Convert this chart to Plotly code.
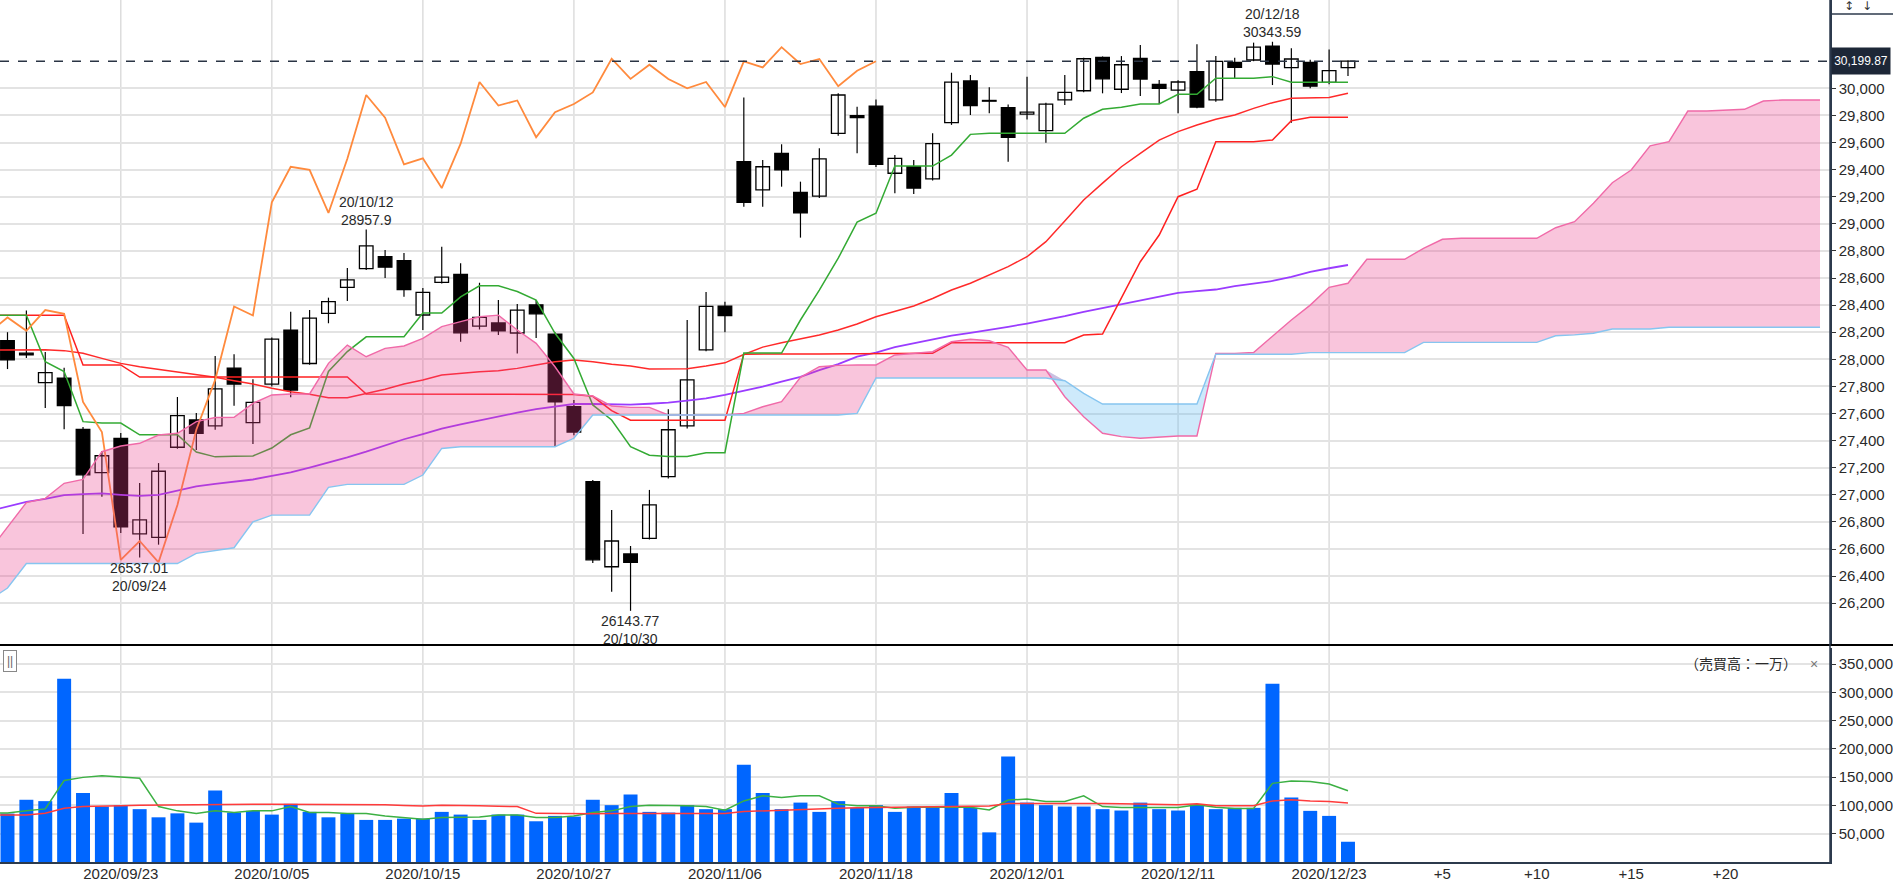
import plotly.graph_objects as go

# ---------------- data ----------------
dates = ["2020/09/15","2020/09/16","2020/09/17","2020/09/18","2020/09/21","2020/09/22","2020/09/23","2020/09/24","2020/09/25","2020/09/28",
         "2020/09/29","2020/09/30","2020/10/01","2020/10/02","2020/10/05","2020/10/06","2020/10/07","2020/10/08","2020/10/09","2020/10/12",
         "2020/10/13","2020/10/14","2020/10/15","2020/10/16","2020/10/19","2020/10/20","2020/10/21","2020/10/22","2020/10/23","2020/10/26",
         "2020/10/27","2020/10/28","2020/10/29","2020/10/30","2020/11/02","2020/11/03","2020/11/04","2020/11/05","2020/11/06","2020/11/09",
         "2020/11/10","2020/11/11","2020/11/12","2020/11/13","2020/11/16","2020/11/17","2020/11/18","2020/11/19","2020/11/20","2020/11/23",
         "2020/11/24","2020/11/25","2020/11/27","2020/11/30","2020/12/01","2020/12/02","2020/12/03","2020/12/04","2020/12/07","2020/12/08",
         "2020/12/09","2020/12/10","2020/12/11","2020/12/14","2020/12/15","2020/12/16","2020/12/17","2020/12/18","2020/12/21","2020/12/22",
         "2020/12/23","2020/12/24"]

opens = [28137, 28045, 27828, 27860, 27483, 27163, 27417, 26712, 26686, 27351,
         27552, 27508, 27935, 27532, 27817, 28216, 27969, 28339, 28531, 28669,
         28757, 28728, 28327, 28568, 28627, 28245, 28268, 28194, 28402, 28185,
         27650, 27097, 26469, 26563, 26679, 27134, 27508, 28070, 28393, 29458,
         29250, 29520, 29232, 29205, 29668, 29798, 29869, 29373, 29421, 29331,
         29746, 30054, 29905, 29857, 29810, 29687, 29914, 29982, 30229, 29993,
         30221, 30029, 29987, 30122, 29914, 30192, 30209, 30312, 30152, 30192,
         30044, 30152]
highs = [28200, 28360, 28054, 27938, 27500, 27323, 27456, 27088, 27234, 27722,
         27603, 28024, 28037, 27852, 28160, 28351, 28364, 28455, 28674, 28957.9,
         28807, 28784, 28526, 28831, 28708, 28565, 28437, 28408, 28437, 28200,
         27700, 27110, 26887, 26622, 27036, 27631, 28290, 28497, 28424, 29933,
         29470, 29587, 29311, 29557, 29963, 29864, 29918, 29508, 29470, 29668,
         30115, 30098, 30007, 29880, 30086, 29894, 30098, 30225, 30235, 30238,
         30320, 30061, 30060, 30325, 30238, 30226, 30337, 30343.59, 30295, 30210,
         30286, 30205]
lows = [27928, 28010, 27640, 27483, 26711, 26986, 26718, 26537.01, 26632, 27340,
        27330, 27480, 27657, 27375, 27800, 27720, 27960, 28266, 28430, 28659,
        28600, 28462, 28216, 28560, 28130, 28220, 28180, 28042, 28157, 27356,
        27440, 26496, 26285, 26143.77, 26670, 27120, 27490, 28060, 28200, 29126,
        29126, 29274, 28898, 29190, 29650, 29520, 29420, 29225, 29220, 29320,
        29730, 29803, 29815, 29458, 29770, 29599, 29877, 29970, 29963, 29965,
        29943, 29884, 29815, 29852, 29901, 30074, 30200, 30024, 29746, 30000,
        30030, 30091]
closes = [27995.60, 28032.38, 27901.98, 27657.42, 27147.70, 27288.18, 26763.13, 26815.44, 27173.96, 27584.06,
          27452.66, 27781.70, 27816.90, 27682.81, 28148.64, 27772.76, 28303.46, 28425.51, 28586.90, 28837.52,
          28679.81, 28514.00, 28494.20, 28606.31, 28195.42, 28308.79, 28210.82, 28363.66, 28335.57, 27685.38,
          27463.19, 26519.95, 26659.11, 26501.60, 26925.05, 27480.03, 27847.66, 28390.18, 28323.40, 29157.97,
          29420.92, 29397.63, 29080.17, 29479.81, 29950.44, 29783.35, 29438.42, 29483.23, 29263.48, 29591.27,
          30046.24, 29872.47, 29910.37, 29638.64, 29823.92, 29883.79, 29969.52, 30218.26, 30069.79, 30173.88,
          30068.81, 29999.26, 30046.37, 29861.55, 30199.31, 30154.54, 30303.37, 30179.05, 30216.45, 30015.51,
          30129.83, 30199.87]

# indicator series start one session before the first visible candle (index -1)
tenkan = [28326,
          28326, 28326, 27983, 27910, 27540, 27530, 27530, 27443, 27443, 27443,
          27316, 27280, 27285, 27287, 27345, 27443, 27494, 27910, 28057, 28166,
          28166, 28166, 28342, 28342, 28461, 28543, 28543, 28500, 28437, 28192,
          28006, 27663, 27552, 27356, 27292, 27282, 27282, 27311, 27311, 28046,
          28046, 28046, 28290, 28511, 28746, 29012, 29078, 29426, 29426, 29426,
          29507, 29660, 29668, 29668, 29668, 29668, 29668, 29779, 29845, 29860,
          29884, 29884, 29956, 29956, 30074, 30074, 30074, 30086, 30044, 30044,
          30044, 30044]
kijun = [28326,
         28326, 28326, 28326, 28326, 27958, 27958, 27958, 27869, 27869, 27869,
         27869, 27869, 27869, 27869, 27869, 27869, 27869, 27869, 27869, 27744,
         27744, 27744, 27744, 27744, 27744, 27744, 27744, 27744, 27744, 27744,
         27740, 27727, 27621, 27551, 27551, 27551, 27551, 27551, 27551, 28038,
         28040, 28040, 28040, 28040, 28040, 28040, 28040, 28040, 28040, 28044,
         28122, 28122, 28122, 28122, 28122, 28122, 28122, 28179, 28186, 28453,
         28720, 28917, 29200, 29255, 29606, 29606, 29606, 29618, 29761, 29786,
         29786, 29786]
sma25 = [28069,
         28070, 28071, 28071, 28064, 28044, 28007, 27970, 27945, 27926, 27908,
         27889, 27867, 27842, 27818, 27786, 27761, 27742, 27717, 27717, 27749,
         27779, 27818, 27847, 27884, 27897, 27908, 27916, 27933, 27958, 27982,
         27995, 27982, 27963, 27950, 27928, 27928, 27930, 27950, 27974, 28035,
         28090, 28122, 28150, 28180, 28216, 28260, 28314, 28351, 28393, 28449,
         28511, 28561, 28622, 28684, 28757, 28868, 29020, 29176, 29300, 29421,
         29520, 29618, 29680, 29729, 29771, 29803, 29852, 29894, 29926, 29931,
         29933, 29963]
sma75 = [26880,
         26912, 26947, 26970, 26998, 27005, 27011, 27000, 26992, 27000, 27030,
         27062, 27080, 27097, 27113, 27140, 27165, 27200, 27236, 27276, 27318,
         27365, 27410, 27448, 27489, 27520, 27550, 27578, 27606, 27632, 27653,
         27670, 27670, 27667, 27665, 27672, 27680, 27695, 27712, 27737, 27768,
         27798, 27835, 27870, 27920, 27965, 28020, 28050, 28090, 28120, 28150,
         28175, 28195, 28215, 28240, 28264, 28290, 28318, 28350, 28378, 28405,
         28430, 28460, 28491, 28503, 28515, 28540, 28560, 28578, 28609, 28646,
         28672, 28696]
span_a = [26580,
          26762, 26943, 26974, 27085, 27113, 27318, 27360, 27380, 27441, 27454,
          27540, 27570, 27572, 27675, 27737, 27744, 27744, 27970, 28105, 28019,
          28081, 28098, 28155, 28241, 28278, 28314, 28326, 28216, 28118, 27945,
          27744, 27729, 27655, 27645, 27645, 27589, 27589, 27589, 27589, 27601,
          27650, 27687, 27867, 27945, 27955, 27958, 27958, 28032, 28044, 28056,
          28130, 28148, 28137, 28088, 27921, 27921, 27724, 27576, 27454, 27429,
          27417, 27424, 27434, 27434, 28044, 28044, 28050, 28170, 28290, 28400,
          28531, 28561, 28738, 28738, 28738, 28819, 28886, 28893, 28893, 28893,
          28893, 28893, 28971, 29016, 29151, 29303, 29397, 29576, 29606, 29832,
          29832, 29838, 29845, 29906, 29914, 29914, 29914]
span_b = [26220,
          26312, 26493, 26493, 26493, 26493, 26493, 26493, 26493, 26493, 26493,
          26568, 26590, 26609, 26801, 26850, 26850, 26850, 27055, 27077, 27077,
          27077, 27077, 27146, 27342, 27355, 27355, 27355, 27355, 27355, 27355,
          27417, 27589, 27589, 27589, 27589, 27589, 27589, 27589, 27589, 27589,
          27589, 27589, 27589, 27589, 27589, 27601, 27862, 27862, 27862, 27862,
          27862, 27862, 27862, 27862, 27862, 27862, 27842, 27749, 27670, 27670,
          27670, 27670, 27670, 27670, 28037, 28037, 28037, 28037, 28037, 28049,
          28049, 28049, 28049, 28049, 28049, 28125, 28125, 28125, 28125, 28125,
          28125, 28125, 28174, 28180, 28192, 28224, 28224, 28224, 28236, 28236,
          28236, 28236, 28236, 28236, 28236, 28236, 28236]

volume = [85600, 110000, 107600, 324000, 121800, 98000, 100500, 93400, 79000, 86000,
          69600, 126500, 87400, 90400, 83800, 102800, 88600, 79000, 85000, 74400,
          74400, 76700, 76700, 88600, 83800, 74400, 83800, 83800, 72000, 81500,
          80300, 110000, 100500, 119400, 88600, 87400, 100500, 93400, 93400, 172000,
          121800, 93400, 105000, 88600, 107600, 95700, 100500, 88600, 98000, 98000,
          121800, 95700, 52400, 186400, 105000, 100500, 98000, 98000, 93400, 91000,
          105000, 93400, 91000, 101600, 93400, 95700, 95700, 315000, 114000, 90400,
          81500, 35800]
vol_ma5 = [86000,
           86800, 90400, 93900, 144000, 149600, 152600, 150800, 147900, 98000, 90400,
           85600, 90400, 87400, 90400, 90400, 98000, 87400, 87400, 85600, 85600,
           81500, 78500, 75600, 78500, 78500, 79700, 83200, 83200, 78500, 78500,
           81500, 87400, 90400, 98000, 100500, 100500, 99300, 98000, 91600, 108000,
           117000, 114000, 117000, 117000, 102300, 99300, 99300, 95100, 96800, 96800,
           96800, 96800, 92100, 109400, 111200, 106900, 106900, 117000, 98000, 96200,
           96200, 96200, 96200, 101000, 96800, 94500, 94500, 139000, 143000, 142500,
           137900, 126000]
vol_ma25 = [83200,
            83200, 83200, 86200, 95100, 98000, 98000, 99300, 100500, 101000, 101500,
            102000, 102300, 102300, 102300, 102300, 102300, 102300, 102000, 101500, 101000,
            101000, 100000, 99000, 100500, 100500, 99500, 98500, 98000, 86000, 85600,
            84800, 85300, 85600, 85600, 85600, 85600, 85600, 85600, 85600, 89200,
            90500, 92000, 93400, 94000, 95000, 95700, 96200, 96200, 96500, 97000,
            98000, 98600, 99000, 103400, 103600, 103800, 104000, 104000, 103500, 103000,
            102000, 101000, 101000, 103000, 99300, 99300, 99300, 108000, 110000, 108000,
            107000, 104500]

price_ticks = list(range(26200, 30001, 200))
volume_ticks = list(range(50000, 350001, 50000))
future_ticks = [5, 10, 15, 20]
chikou_shift = 25
last_price = 30199.87

# ---------------- figure ----------------
n = len(dates)
idx = list(range(n))
ind_x = list(range(-1, n))                 # indicator x positions (from index -1)
cloud_x = list(range(-1, len(span_a) - 1))
FONT = "Liberation Sans, Arial, sans-serif"
TXT = "#2a2a2a"

fig = go.Figure()

# candle wicks
wx, wy = [], []
for i in idx:
    wx += [i, i, None]
    wy += [lows[i], highs[i], None]
fig.add_trace(go.Scatter(x=wx, y=wy, mode="lines", line=dict(color="black", width=1.2),
                         xaxis="x", yaxis="y", hoverinfo="skip"))
# candle bodies
body_base = [min(o, c) for o, c in zip(opens, closes)]
body_h = [abs(c - o) for o, c in zip(opens, closes)]
body_col = ["white" if c >= o else "black" for o, c in zip(opens, closes)]
fig.add_trace(go.Bar(x=idx, y=body_h, base=body_base, width=0.72,
                     marker=dict(color=body_col, line=dict(color="black", width=1.3)),
                     xaxis="x", yaxis="y"))

# indicator lines
fig.add_trace(go.Scatter(x=ind_x, y=sma75, mode="lines", line=dict(color="#9a3cff", width=1.8), xaxis="x", yaxis="y"))
fig.add_trace(go.Scatter(x=ind_x, y=sma25, mode="lines", line=dict(color="#ff2a2a", width=1.5), xaxis="x", yaxis="y"))
fig.add_trace(go.Scatter(x=ind_x, y=kijun, mode="lines", line=dict(color="#ff2020", width=1.5), xaxis="x", yaxis="y"))
fig.add_trace(go.Scatter(x=ind_x, y=tenkan, mode="lines", line=dict(color="#33aa33", width=1.5), xaxis="x", yaxis="y"))
# lagging span: closes drawn 25 sessions back
fig.add_trace(go.Scatter(x=[i - chikou_shift for i in idx[chikou_shift - 1:]], y=closes[chikou_shift - 1:],
                         mode="lines", line=dict(color="#ff8a3d", width=1.8), xaxis="x", yaxis="y"))

# ichimoku cloud
upper = [max(a, b) for a, b in zip(span_a, span_b)]
fig.add_trace(go.Scatter(x=cloud_x, y=span_b, mode="lines", line=dict(width=0), xaxis="x", yaxis="y", hoverinfo="skip"))
fig.add_trace(go.Scatter(x=cloud_x, y=upper, mode="lines", line=dict(width=0), fill="tonexty",
                         fillcolor="rgba(236,64,140,0.30)", xaxis="x", yaxis="y", hoverinfo="skip"))
fig.add_trace(go.Scatter(x=cloud_x, y=span_a, mode="lines", line=dict(width=0), xaxis="x", yaxis="y", hoverinfo="skip"))
fig.add_trace(go.Scatter(x=cloud_x, y=upper, mode="lines", line=dict(width=0), fill="tonexty",
                         fillcolor="rgba(80,180,240,0.28)", xaxis="x", yaxis="y", hoverinfo="skip"))
fig.add_trace(go.Scatter(x=cloud_x, y=span_a, mode="lines", line=dict(color="#f06aa8", width=1.4), xaxis="x", yaxis="y"))
fig.add_trace(go.Scatter(x=cloud_x, y=span_b, mode="lines", line=dict(color="#86c5f0", width=1.4), xaxis="x", yaxis="y"))

# volume
fig.add_trace(go.Bar(x=idx, y=volume, width=0.74, marker=dict(color="#0066ff", line=dict(width=0)),
                     xaxis="x2", yaxis="y2"))
fig.add_trace(go.Scatter(x=ind_x, y=vol_ma5, mode="lines", line=dict(color="#3cb043", width=1.5), xaxis="x2", yaxis="y2"))
fig.add_trace(go.Scatter(x=ind_x, y=vol_ma25, mode="lines", line=dict(color="#ff3b3b", width=1.5), xaxis="x2", yaxis="y2"))

# geometry
PLOT_H = 862.0
PLOT_W = 1832.0
split_main = (PLOT_H - 645) / PLOT_H
split_vol = (PLOT_H - 648) / PLOT_H
xr = [-0.397, 96.53]

date_tick_pos = list(range(6, n, 8))
tickvals = date_tick_pos + [n - 1 + f for f in future_ticks]
ticktext = [dates[i] for i in date_tick_pos] + ["+%d" % f for f in future_ticks]

shapes = []
for p in date_tick_pos:
    shapes.append(dict(type="line", xref="x", yref="paper", x0=p, x1=p, y0=0, y1=1,
                       line=dict(color="#dddddd", width=1.5), layer="below"))
shapes.append(dict(type="line", xref="paper", yref="y", x0=0, x1=1, y0=last_price, y1=last_price,
                   line=dict(color="#2a3444", width=1.5, dash="dash")))
shapes.append(dict(type="line", xref="paper", yref="paper", x0=0, x1=1.04, y0=split_main, y1=split_main,
                   line=dict(color="black", width=2)))
shapes.append(dict(type="line", xref="paper", yref="paper", x0=1, x1=1, y0=0, y1=1,
                   line=dict(color="#2c3a4c", width=1.5)))
shapes.append(dict(type="line", xref="paper", yref="paper", x0=1, x1=1.04,
                   y0=(PLOT_H - 14) / PLOT_H, y1=(PLOT_H - 14) / PLOT_H,
                   line=dict(color="#2c3a4c", width=1.5)))

ann_font = dict(family=FONT, size=14, color=TXT)
annotations = [
    dict(x=19, y=highs[19], xref="x", yref="y", text="20/10/12<br>28957.9", showarrow=False,
         xanchor="center", yanchor="bottom", font=ann_font),
    dict(x=7, y=lows[7], xref="x", yref="y", text="26537.01<br>20/09/24", showarrow=False,
         xanchor="center", yanchor="top", font=ann_font),
    dict(x=33, y=lows[33], xref="x", yref="y", text="26143.77<br>20/10/30", showarrow=False,
         xanchor="center", yanchor="top", font=ann_font),
    dict(x=67, y=highs[67], xref="x", yref="y", text="20/12/18<br>30343.59", showarrow=False,
         xanchor="center", yanchor="bottom", font=ann_font),
    dict(x=1833.5 / PLOT_W, y=last_price, xref="paper", yref="y", text="30,199.87", showarrow=False,
         xanchor="left", yanchor="middle", bgcolor="#1d2737", borderpad=1, width=56, height=24,
         align="center", valign="middle",
         font=dict(family=FONT, size=12, color="white")),
    dict(x=1743 / PLOT_W, y=(PLOT_H - 663) / PLOT_H, xref="paper", yref="paper", text="（売買高：一万）",
         showarrow=False, xanchor="center", yanchor="middle",
         font=dict(family="Noto Sans CJK JP", size=14, color=TXT)),
    dict(x=1816 / PLOT_W, y=(PLOT_H - 664) / PLOT_H, xref="paper", yref="paper", text="×",
         showarrow=False, xanchor="center", yanchor="middle", font=dict(family=FONT, size=14, color="#777")),
    dict(x=10.5 / PLOT_W, y=(PLOT_H - 661) / PLOT_H, xref="paper", yref="paper", text="||",
         showarrow=False, xanchor="center", yanchor="middle", font=dict(family=FONT, size=12, color="#666"),
         bordercolor="#888", borderwidth=1, borderpad=3, bgcolor="white"),
    dict(x=1851 / PLOT_W, y=(PLOT_H - 6) / PLOT_H, xref="paper", yref="paper", text="↕",
         showarrow=False, xanchor="center", yanchor="middle", font=dict(family="DejaVu Sans", size=12, color="#333")),
    dict(x=1869 / PLOT_W, y=(PLOT_H - 6) / PLOT_H, xref="paper", yref="paper", text="↓",
         showarrow=False, xanchor="center", yanchor="middle", font=dict(family="DejaVu Sans", size=12, color="#333")),
]

fig.update_layout(
    width=1893, height=886, autosize=False,
    margin=dict(l=0, r=61, t=0, b=24, pad=0),
    paper_bgcolor="white", plot_bgcolor="white",
    showlegend=False, barmode="overlay",
    font=dict(family=FONT, size=15, color=TXT),
    xaxis=dict(domain=[0, 1], range=xr, anchor="y", showticklabels=False, showgrid=False,
               zeroline=False, showline=False, ticks=""),
    xaxis2=dict(domain=[0, 1], range=xr, anchor="y2", matches="x", tickmode="array",
                tickvals=tickvals, ticktext=ticktext, showgrid=False, zeroline=False,
                showline=True, linecolor="#2c3a4c", linewidth=1.5, ticks="",
                ticklabelstandoff=-3,
                tickfont=dict(family=FONT, size=15, color=TXT)),
    yaxis=dict(domain=[split_main, 1], range=[25891.5, 30651.7], anchor="x", side="right",
               tickmode="array", tickvals=price_ticks, tickformat=",", ticks="outside",
               ticklen=4, tickcolor="#333", showgrid=True, gridcolor="#e3e3e3", gridwidth=1.5,
               zeroline=False, showline=True, linecolor="#2c3a4c", linewidth=1.5,
               tickfont=dict(family=FONT, size=15, color=TXT)),
    yaxis2=dict(domain=[0, split_vol], range=[0, 378300], anchor="x2", side="right",
                tickmode="array", tickvals=volume_ticks, tickformat=",", ticks="outside",
                ticklen=4, tickcolor="#333", showgrid=True, gridcolor="#e3e3e3", gridwidth=1.5,
                zeroline=False, showline=True, linecolor="#2c3a4c", linewidth=1.5,
                tickfont=dict(family=FONT, size=15, color=TXT)),
    shapes=shapes,
    annotations=annotations,
)

fig.write_html("out.html")
